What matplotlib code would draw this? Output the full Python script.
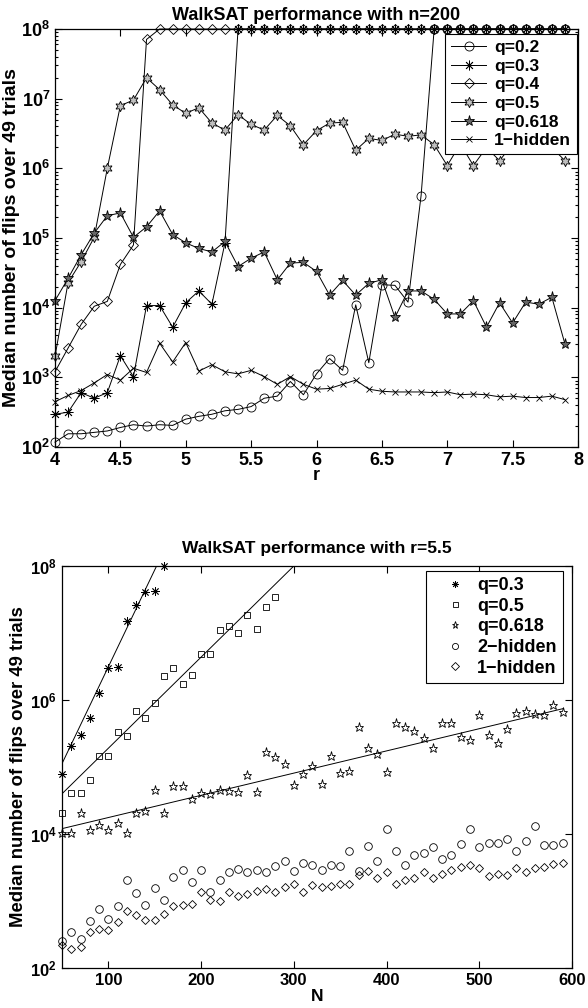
import numpy as np
import matplotlib
matplotlib.use("Agg")
import matplotlib.pyplot as plt
from matplotlib.lines import Line2D
from matplotlib.legend_handler import HandlerLine2D
from matplotlib.ticker import FixedLocator, NullLocator, FuncFormatter, NullFormatter

plt.rcParams['font.family'] = ['Liberation Sans', 'DejaVu Sans']
plt.rcParams['font.weight'] = 'bold'
plt.rcParams['mathtext.fontset'] = 'custom'
plt.rcParams['mathtext.rm'] = 'Liberation Sans:bold'
plt.rcParams['mathtext.bf'] = 'Liberation Sans:bold'
plt.rcParams['mathtext.default'] = 'bf'

# ---- top panel: n=200, median flips vs r (values as log10) ----
r_vals = [4.0, 4.1, 4.2, 4.3, 4.4, 4.5, 4.6, 4.7, 4.8, 4.9,
          5.0, 5.1, 5.2, 5.3, 5.4, 5.5, 5.6, 5.7, 5.8, 5.9,
          6.0, 6.1, 6.2, 6.3, 6.4, 6.5, 6.6, 6.7, 6.8, 6.9,
          7.0, 7.1, 7.2, 7.3, 7.4, 7.5, 7.6, 7.7, 7.8, 7.9]

q02_log = [2.07, 2.19, 2.19, 2.21, 2.23, 2.28, 2.32, 2.30, 2.32, 2.31,
           2.40, 2.44, 2.47, 2.52, 2.54, 2.58, 2.70, 2.73, 2.94, 2.75,
           3.05, 3.27, 3.10, 4.04, 3.21, 4.33, 4.32, 4.08, 5.61, 8.0,
           8.0, 8.0, 8.0, 8.0, 8.0, 8.0, 8.0, 8.0, 8.0, 8.0]
q03_log = [2.47, 2.50, 2.78, 2.70, 2.78, 3.31, 3.01, 4.03, 4.03, 3.72,
           4.07, 4.24, 4.05, 4.93, 8.0, 8.0, 8.0, 8.0, 8.0, 8.0,
           8.0, 8.0, 8.0, 8.0, 8.0, 8.0, 8.0, 8.0, 8.0, 8.0,
           8.0, 8.0, 8.0, 8.0, 8.0, 8.0, 8.0, 8.0, 8.0, 8.0]
q04_log = [3.08, 3.42, 3.76, 4.02, 4.09, 4.62, 4.90, 7.85, 8.0, 8.0,
           8.0, 8.0, 8.0, 8.0, 8.0, 8.0, 8.0, 8.0, 8.0, 8.0,
           8.0, 8.0, 8.0, 8.0, 8.0, 8.0, 8.0, 8.0, 8.0, 8.0,
           8.0, 8.0, 8.0, 8.0, 8.0, 8.0, 8.0, 8.0, 8.0, 8.0]
q05_log = [3.30, 4.36, 4.66, 5.01, 6.00, 6.90, 6.98, 7.30, 7.13, 6.91,
           6.79, 6.87, 6.65, 6.55, 6.77, 6.63, 6.55, 6.76, 6.61, 6.34,
           6.54, 6.65, 6.66, 6.26, 6.43, 6.40, 6.49, 6.46, 6.48, 6.34,
           6.04, 6.35, 6.04, 6.30, 6.11, 6.35, 6.30, 6.40, 6.30, 6.11]
q0618_log = [4.10, 4.42, 4.76, 5.07, 5.32, 5.36, 5.01, 5.16, 5.39, 5.05,
             4.93, 4.85, 4.80, 4.95, 4.59, 4.71, 4.80, 4.40, 4.64, 4.65,
             4.52, 4.18, 4.39, 4.18, 4.35, 4.40, 3.86, 4.24, 4.24, 4.12,
             3.91, 3.91, 4.10, 3.72, 4.07, 3.78, 4.08, 4.05, 4.15, 3.48]
hid1_top_log = [2.65, 2.74, 2.81, 2.92, 3.04, 2.96, 3.13, 3.07, 3.49, 3.22,
                3.50, 3.09, 3.18, 3.08, 3.05, 3.10, 3.01, 2.90, 3.01, 2.90,
                2.83, 2.84, 2.90, 2.96, 2.83, 2.80, 2.79, 2.79, 2.79, 2.78,
                2.79, 2.75, 2.76, 2.75, 2.72, 2.73, 2.71, 2.71, 2.73, 2.68]

# ---- bottom panel: r=5.5, median flips vs N (values as log10) ----
N_all = [50, 60, 70, 80, 90, 100, 110, 120, 130, 140,
         150, 160, 170, 180, 190, 200, 210, 220, 230, 240,
         250, 260, 270, 280, 290, 300, 310, 320, 330, 340,
         350, 360, 370, 380, 390, 400, 410, 420, 430, 440,
         450, 460, 470, 480, 490, 500, 510, 520, 530, 540,
         550, 560, 570, 580, 590]
N_q03 = [50, 60, 70, 80, 90, 100, 110, 120, 130, 140, 150, 160]
q03_N_log = [4.90, 5.31, 5.48, 5.73, 6.11, 6.48, 6.49, 7.18, 7.42, 7.61, 7.62, 8.0]
N_q05 = [50, 60, 70, 80, 90, 100, 110, 120, 130, 140, 150, 160,
         170, 180, 190, 200, 210, 220, 230, 240, 250, 260, 270, 280]
q05_N_log = [4.31, 4.61, 4.61, 4.80, 5.17, 5.17, 5.52, 5.46, 5.84, 5.73, 5.95, 6.36,
             6.48, 6.24, 6.38, 6.68, 6.69, 7.05, 7.11, 7.00, 7.27, 7.06, 7.39, 7.54]
q0618_N_log = [4.01, 4.01, 4.31, 4.06, 4.13, 4.06, 4.17, 4.02, 4.32, 4.34,
               4.66, 4.31, 4.72, 4.72, 4.52, 4.61, 4.60, 4.66, 4.64, 4.63,
               4.88, 4.62, 5.23, 5.15, 5.05, 4.73, 4.89, 5.02, 4.75, 5.16,
               4.91, 4.94, 5.59, 5.29, 5.19, 4.92, 5.65, 5.60, 5.53, 5.43,
               5.29, 5.65, 5.66, 5.45, 5.41, 5.78, 5.48, 5.36, 5.56, 5.81,
               5.83, 5.79, 5.78, 5.92, 5.82]
hid2_N_log = [2.40, 2.53, 2.44, 2.70, 2.88, 2.73, 2.92, 3.32, 3.12, 2.94,
              3.19, 3.02, 3.36, 3.46, 3.29, 3.47, 3.13, 3.31, 3.44, 3.48,
              3.43, 3.47, 3.43, 3.52, 3.60, 3.45, 3.56, 3.53, 3.46, 3.53,
              3.52, 3.74, 3.45, 3.82, 3.59, 4.07, 3.75, 3.53, 3.69, 3.71,
              3.80, 3.62, 3.68, 3.85, 4.07, 3.81, 3.87, 3.87, 3.93, 3.74,
              3.89, 4.12, 3.84, 3.84, 3.87]
hid1_N_log = [2.34, 2.29, 2.31, 2.54, 2.58, 2.56, 2.68, 2.85, 2.79, 2.72,
              2.71, 2.80, 2.93, 2.94, 2.95, 3.13, 3.01, 3.00, 3.13, 3.07,
              3.10, 3.15, 3.18, 3.13, 3.21, 3.25, 3.14, 3.24, 3.21, 3.23,
              3.26, 3.25, 3.39, 3.45, 3.35, 3.43, 3.26, 3.31, 3.34, 3.43,
              3.35, 3.41, 3.46, 3.51, 3.53, 3.49, 3.38, 3.41, 3.39, 3.49,
              3.43, 3.49, 3.51, 3.55, 3.57]

# exponential fit lines (N, log10 flips)
fit_q03_N, fit_q03_log = [50, 152], [5.05, 8.0]
fit_q05_N, fit_q05_log = [50, 300], [4.60, 8.0]
fit_q0618_N, fit_q0618_log = [50, 590], [4.08, 5.87]

top_labels = ['q=0.2', 'q=0.3', 'q=0.4', 'q=0.5', 'q=0.618', '1\u2212hidden']
bottom_labels = ['q=0.3', 'q=0.5', 'q=0.618', '2\u2212hidden', '1\u2212hidden']

ASTER = (8, 2, 0)
HEXA = (6, 1, 0)


class MarkerAt(HandlerLine2D):
    """legend handler that puts the single marker at a fraction of the handle"""
    def __init__(self, frac, **kw):
        super().__init__(numpoints=1, **kw)
        self.frac = frac

    def get_xdata(self, legend, xdescent, ydescent, width, height, fontsize):
        x = -xdescent + self.frac * width
        return np.array([x, x]), np.array([x])


def logfmt(v, pos):
    return r'$10^{%d}$' % int(round(np.log10(v)))


def style_axes(ax, fs):
    ax.set_yscale('log')
    ax.tick_params(which='both', direction='in', top=True, right=True,
                   labelsize=fs, width=0.8)
    ax.tick_params(which='major', length=5)
    ax.tick_params(which='minor', length=2.5)
    for sp in ax.spines.values():
        sp.set_linewidth(0.9)


fig = plt.figure(figsize=(5.88, 10.08), dpi=100)

# ---------------- top panel ----------------
FS1 = 13
ax1 = fig.add_axes([55 / 588, 1 - 447 / 1008, 523 / 588, 418 / 1008])
r = np.array(r_vals)
kw = dict(color='black', lw=0.7, clip_on=False, mec='black', mew=0.6)
ax1.plot(r, 10.0 ** np.array(q02_log), marker='o', ms=6.5, mfc='none', label=top_labels[0], **kw)
ax1.plot(r, 10.0 ** np.array(q03_log), marker=ASTER, ms=7, mfc='none', label=top_labels[1], **kw)
ax1.plot(r, 10.0 ** np.array(q04_log), marker='D', ms=5, mfc='none', label=top_labels[2], **kw)
ax1.plot(r, 10.0 ** np.array(q05_log), marker=HEXA, ms=7.5, mfc='0.75', label=top_labels[3], **kw)
ax1.plot(r, 10.0 ** np.array(q0618_log), marker='*', ms=8, mfc='0.4', label=top_labels[4], **kw)
ax1.plot(r, 10.0 ** np.array(hid1_top_log), marker='x', ms=5, mfc='none', label=top_labels[5], **kw)
style_axes(ax1, FS1)
ax1.set_xlim(4, 8)
ax1.set_ylim(1e2, 1e8)
ax1.set_xticks([4, 4.5, 5, 5.5, 6, 6.5, 7, 7.5, 8])
ax1.set_xticklabels(['4', '4.5', '5', '5.5', '6', '6.5', '7', '7.5', '8'], fontweight='bold')
ax1.yaxis.set_major_locator(FixedLocator([1e2, 1e3, 1e4, 1e5, 1e6, 1e7, 1e8]))
ax1.yaxis.set_major_formatter(FuncFormatter(logfmt))
ax1.yaxis.set_minor_formatter(NullFormatter())
ax1.set_title('WalkSAT performance with n=200', fontsize=FS1, fontweight='bold', pad=6.5)
ax1.set_xlabel('r', fontsize=FS1, fontweight='bold', labelpad=-1)
ax1.set_ylabel('Median number of flips over 49 trials', fontsize=14, fontweight='bold', labelpad=1)
leg1 = ax1.legend(loc='upper right', bbox_to_anchor=(0.998, 0.988), borderaxespad=0,
                  prop={'weight': 'bold', 'size': 12.5}, fancybox=False,
                  framealpha=1, edgecolor='black', handlelength=2.0, handletextpad=0.45,
                  labelspacing=0.2, borderpad=0.35, numpoints=1)
leg1.get_frame().set_linewidth(0.8)

# ---------------- bottom panel ----------------
FS2 = 12.5
ax2 = fig.add_axes([62 / 588, 1 - 968 / 1008, 510 / 588, 402 / 1008])
N = np.array(N_all)
mk = dict(ls='none', color='black', mec='black', mew=0.6, clip_on=False)
h1, = ax2.plot(N_q03, 10.0 ** np.array(q03_N_log), marker=ASTER, ms=6, mfc='none', label=bottom_labels[0], **mk)
h2, = ax2.plot(N_q05, 10.0 ** np.array(q05_N_log), marker='s', ms=4.5, mfc='none', label=bottom_labels[1], **mk)
h3, = ax2.plot(N, 10.0 ** np.array(q0618_N_log), marker='*', ms=6.5, mfc='none', label=bottom_labels[2], **mk)
h4, = ax2.plot(N, 10.0 ** np.array(hid2_N_log), marker='o', ms=5.5, mfc='none', label=bottom_labels[3], **mk)
h5, = ax2.plot(N, 10.0 ** np.array(hid1_N_log), marker='D', ms=4.5, mfc='none', label=bottom_labels[4], **mk)

for xs, ys in [(fit_q03_N, fit_q03_log), (fit_q05_N, fit_q05_log), (fit_q0618_N, fit_q0618_log)]:
    ax2.plot(xs, 10.0 ** np.array(ys), color='black', lw=0.7)

style_axes(ax2, 12)
ax2.set_xlim(50, 600)
ax2.set_ylim(1e2, 1e8)
ax2.set_xticks([100, 200, 300, 400, 500, 600])
ax2.set_xticklabels(['100', '200', '300', '400', '500', '600'], fontweight='bold')
ax2.yaxis.set_major_locator(FixedLocator([1e2, 1e4, 1e6, 1e8]))
ax2.yaxis.set_minor_locator(NullLocator())
ax2.yaxis.set_major_formatter(FuncFormatter(logfmt))
ax2.set_title('WalkSAT performance with r=5.5', fontsize=FS2, fontweight='bold', pad=9)
ax2.set_xlabel('N', fontsize=FS2, fontweight='bold', labelpad=1)
ax2.set_ylabel('Median number of flips over 49 trials', fontsize=13.3, fontweight='bold', labelpad=2)
leg2 = ax2.legend(handles=[h1, h2, h3, h4, h5], loc='upper right',
                  bbox_to_anchor=(0.982, 0.988), borderaxespad=0,
                  prop={'weight': 'bold', 'size': 13}, fancybox=False, framealpha=1,
                  edgecolor='black', handlelength=2.2, handletextpad=0.25,
                  labelspacing=0.2, borderpad=0.35, markerscale=0.8,
                  handler_map={Line2D: MarkerAt(0.55)})
leg2.get_frame().set_linewidth(0.8)

fig.savefig('out.png', dpi=100)
